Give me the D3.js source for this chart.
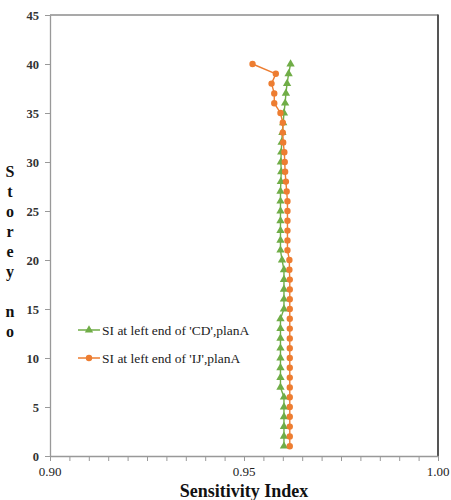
<!DOCTYPE html>
<html>
<head>
<meta charset="utf-8">
<script src="https://cdn.jsdelivr.net/npm/d3@7"></script>
<style>
  html, body { margin: 0; padding: 0; background: #fff; }
  svg { display: block; }
  text { font-family: "Liberation Serif", "Times New Roman", serif; }
</style>
</head>
<body>
<svg id="chart" width="451" height="500"></svg>
<script>
// Storey numbers (1..40)
const storeys = [1,2,3,4,5,6,7,8,9,10,11,12,13,14,15,16,17,18,19,20,
                 21,22,23,24,25,26,27,28,29,30,31,32,33,34,35,36,37,38,39,40];

// Sensitivity index at left end of 'CD', plan A (storey 1 -> 40)
const siCD = [0.9603,0.9603,0.9603,0.9603,0.9603,0.9603,0.9594,0.9594,0.9594,0.9594,
              0.9594,0.9594,0.9594,0.9594,0.9603,0.9603,0.9603,0.9603,0.9603,0.9598,
              0.9594,0.9594,0.9594,0.9594,0.9594,0.9594,0.9594,0.9595,0.9596,0.9595,
              0.9596,0.9597,0.9599,0.9601,0.9603,0.9606,0.9608,0.9611,0.9615,0.9620];

// Sensitivity index at left end of 'IJ', plan A (storey 1 -> 40)
const siIJ = [0.9618,0.9618,0.9618,0.9618,0.9618,0.9618,0.9618,0.9618,0.9618,0.9618,
              0.9618,0.9618,0.9618,0.9618,0.9618,0.9618,0.9618,0.9618,0.9617,0.9617,
              0.9612,0.9612,0.9612,0.9612,0.9612,0.9612,0.9610,0.9608,0.9606,0.9605,
              0.9604,0.9601,0.9600,0.9600,0.9594,0.9578,0.9578,0.9571,0.9582,0.9522];

const seriesNames = ["SI at left end of 'CD',planA", "SI at left end of 'IJ',planA"];
const xTickValues = [0.90, 0.95, 1.00];
const yTickValues = [0, 5, 10, 15, 20, 25, 30, 35, 40, 45];
const yTitleLetters = ["S", "t", "o", "r", "e", "y", "", "n", "o"];

const green = "#70AD47", orange = "#ED7D31";

const svg = d3.select("#chart");
const plotLeft = 50, plotRight = 438, plotTop = 15, plotBottom = 456;

const x = d3.scaleLinear().domain([0.90, 1.00]).range([plotLeft, plotRight]);
const y = d3.scaleLinear().domain([0, 45]).range([plotBottom, plotTop]);

// Frame: top (light) and right (dark) borders
svg.append("line").attr("x1", plotLeft).attr("x2", plotRight).attr("y1", plotTop).attr("y2", plotTop)
  .attr("stroke", "#8c8c8c").attr("stroke-width", 1.3);
svg.append("line").attr("x1", plotRight).attr("x2", plotRight).attr("y1", plotTop - 0.5).attr("y2", plotBottom)
  .attr("stroke", "#555").attr("stroke-width", 2);

// X axis with minor ticks every 0.005
const xAxis = svg.append("g").attr("transform", `translate(0,${plotBottom})`)
  .call(d3.axisBottom(x).tickValues(d3.range(0, 21).map(i => 0.90 + i * 0.005))
        .tickSize(5).tickSizeOuter(0).tickFormat(""));
xAxis.select(".domain").attr("stroke", "#999").attr("stroke-width", 1.3);
xAxis.selectAll(".tick line").attr("stroke", "#999");

svg.append("g").selectAll("text").data(xTickValues).join("text")
  .attr("x", d => x(d)).attr("y", 476)
  .attr("text-anchor", "middle").attr("font-size", 13).attr("fill", "#222")
  .text(d => d.toFixed(2));

// Y axis
const yAxis = svg.append("g").attr("transform", `translate(${plotLeft},0)`)
  .call(d3.axisLeft(y).tickValues(yTickValues).tickSize(5).tickSizeOuter(0).tickPadding(6));
yAxis.select(".domain").attr("stroke", "#999").attr("stroke-width", 1.3);
yAxis.selectAll(".tick line").attr("stroke", "#999");
yAxis.selectAll(".tick text")
  .attr("font-size", 12.5).attr("font-weight", "bold").attr("fill", "#333");

// Axis titles
svg.append("text").attr("x", x(0.95)).attr("y", 497)
  .attr("text-anchor", "middle").attr("font-size", 18).attr("font-weight", "bold")
  .attr("fill", "#111").text("Sensitivity Index");

svg.append("g").selectAll("text").data(yTitleLetters).join("text")
  .attr("x", 10).attr("y", (d, i) => 177 + i * 20)
  .attr("text-anchor", "middle").attr("font-size", 16).attr("font-weight", "bold")
  .attr("fill", "#111").text(d => d);

// Series
const tri = d3.symbol().type(d3.symbolTriangle).size(30);
const dot = d3.symbol().type(d3.symbolCircle).size(32);

function drawSeries(vals, color, sym) {
  const pts = storeys.map((s, i) => [vals[i], s]);
  svg.append("path").datum(pts)
    .attr("fill", "none").attr("stroke", color).attr("stroke-width", 1.4)
    .attr("d", d3.line().x(d => x(d[0])).y(d => y(d[1])));
  svg.append("g").selectAll("path").data(pts).join("path")
    .attr("transform", d => `translate(${x(d[0])},${y(d[1])})`)
    .attr("d", sym).attr("fill", color);
}
drawSeries(siCD, green, tri);
drawSeries(siIJ, orange, dot);

// Legend
const legend = [
  { name: seriesNames[0], color: green, sym: tri, yy: 330 },
  { name: seriesNames[1], color: orange, sym: dot, yy: 358 }
];
const lg = svg.append("g").selectAll("g").data(legend).join("g");
lg.append("line").attr("x1", 78).attr("x2", 100).attr("y1", d => d.yy).attr("y2", d => d.yy)
  .attr("stroke", d => d.color).attr("stroke-width", 1.5);
lg.append("path").attr("transform", d => `translate(89,${d.yy})`)
  .attr("d", d => d.sym()).attr("fill", d => d.color);
lg.append("text").attr("x", 102).attr("y", d => d.yy + 4.5)
  .attr("font-size", 13.5).attr("fill", "#222").text(d => d.name);
</script>
</body>
</html>
